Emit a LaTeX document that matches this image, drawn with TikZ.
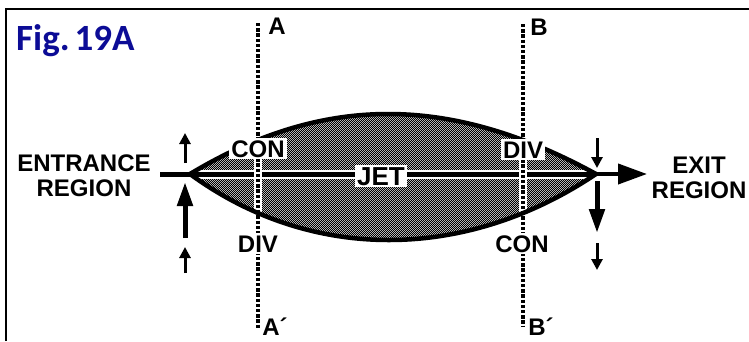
\documentclass[tikz,border=0pt]{standalone}
\usepackage{fontspec}
\setmainfont{Liberation Sans}
\newfontfamily\figfont{Carlito}
\usetikzlibrary{arrows.meta,patterns.meta}
\definecolor{figblue}{RGB}{12,12,150}
\pgfdeclarepattern{name=stipple, type=uncolored, bottom left={\pgfpointorigin}, top right={\pgfpoint{2.4pt}{2.4pt}}, tile size={\pgfpoint{2.4pt}{2.4pt}}, code={\pgfpathrectangle{\pgfpointorigin}{\pgfpoint{1.3pt}{1.3pt}}\pgfpathrectangle{\pgfpoint{1.2pt}{1.2pt}}{\pgfpoint{1.3pt}{1.3pt}}\pgfusepath{fill}}}
\tikzset{
  lbl/.style={font=\bfseries\fontsize{24}{25}\selectfont, inner sep=0pt},
  boxlbl/.style={lbl, fill=white, inner sep=2pt},
  dotline/.style={line width=4pt, dash pattern=on 3.4pt off 1.8pt},
  halo/.style={white, line width=8pt},
  rim/.style={line width=4.5pt, line cap=round},
  smallarr/.style={line width=3pt, -{Triangle[length=11pt,width=11pt]}},
  bigarr/.style={line width=5pt, -{Triangle[length=24pt,width=15pt]}},
}
\begin{document}
\begin{tikzpicture}[x=1pt,y=-1pt]
\useasboundingbox (0,0) rectangle (749,341);
% frame
\draw[line width=2pt] (6,341) -- (6,9) -- (749,9);
% key points
\coordinate (L) at (190,174);
\coordinate (R) at (596,174);
\coordinate (axL) at (160,174);
\coordinate (exitT) at (647,174);
\coordinate (Atop) at (258,23);
\coordinate (Abot) at (258,328);
\coordinate (Btop) at (523,24);
\coordinate (Bbot) at (523,326);
\coordinate (Ah1) at (258,128);
\coordinate (Ah2) at (258,228);
\coordinate (Bh1) at (523,128);
\coordinate (Bh2) at (523,228);
% lens fill
\fill[pattern=stipple] (L) .. controls (323,94) and (450,94) .. (R)
  .. controls (465,262) and (310,262) .. (L) -- cycle;
% axis
\draw[white, line width=9pt] (L) -- (R);
\draw[line width=5pt] (axL) -- (R);
% halos and dotted lines
\draw[halo] (Ah1) -- (Ah2);
\draw[halo] (Bh1) -- (Bh2);
\draw[dotline] (Atop) -- (Abot);
\draw[dotline] (Btop) -- (Bbot);
% rims
\draw[rim] (L) .. controls (323,94) and (450,94) .. (R);
\draw[rim] (L) .. controls (310,262) and (465,262) .. (R);
% labels
\node[boxlbl, anchor=base] (conUL) at (258,157) {CON};
\node[boxlbl, anchor=base] (divLL) at (258,252) {DIV};
\node[boxlbl, anchor=base] (divUR) at (523,158) {DIV};
\node[boxlbl, anchor=base] (conLR) at (522,252) {CON};
\node[boxlbl, anchor=base, font=\bfseries\fontsize{26}{27}\selectfont] (jet) at (381,185) {JET};
\node[lbl, anchor=base] (labA) at (277,34) {A};
\node[lbl, anchor=base] (labB) at (539,35) {B};
\node[lbl, anchor=base] (labA2) at (275,335) {A´};
\node[lbl, anchor=base] (labB2) at (541,335) {B´};
\node[lbl, anchor=north, align=center] (entr) at (84,155) {ENTRANCE\\REGION};
\node[lbl, anchor=north, align=center] (exit) at (699,157) {EXIT\\REGION};
\node[anchor=base west, inner sep=0pt, text=figblue, font=\figfont\bfseries\fontsize{37}{38}\selectfont] (fig) at (16,50) {Fig.\kern5pt19A};
% arrows left
\coordinate (lu1a) at (185,163); \coordinate (lu1b) at (185,133);
\coordinate (lu2a) at (185,238); \coordinate (lu2b) at (185,182);
\coordinate (lu3a) at (185,273); \coordinate (lu3b) at (185,247);
\draw[smallarr] (lu1a) -- (lu1b);
\draw[bigarr] (lu2a) -- (lu2b);
\draw[smallarr] (lu3a) -- (lu3b);
% arrows right
\coordinate (rd1a) at (597,138); \coordinate (rd1b) at (597,168);
\coordinate (rd2a) at (597,181); \coordinate (rd2b) at (597,233);
\coordinate (rd3a) at (597,243); \coordinate (rd3b) at (597,270);
\draw[smallarr] (rd1a) -- (rd1b);
\draw[bigarr] (rd2a) -- (rd2b);
\draw[smallarr] (rd3a) -- (rd3b);
% exit arrow
\draw[line width=4pt, -{Triangle[length=29pt,width=20pt]}] (R) -- (exitT);
\end{tikzpicture}
\end{document}
